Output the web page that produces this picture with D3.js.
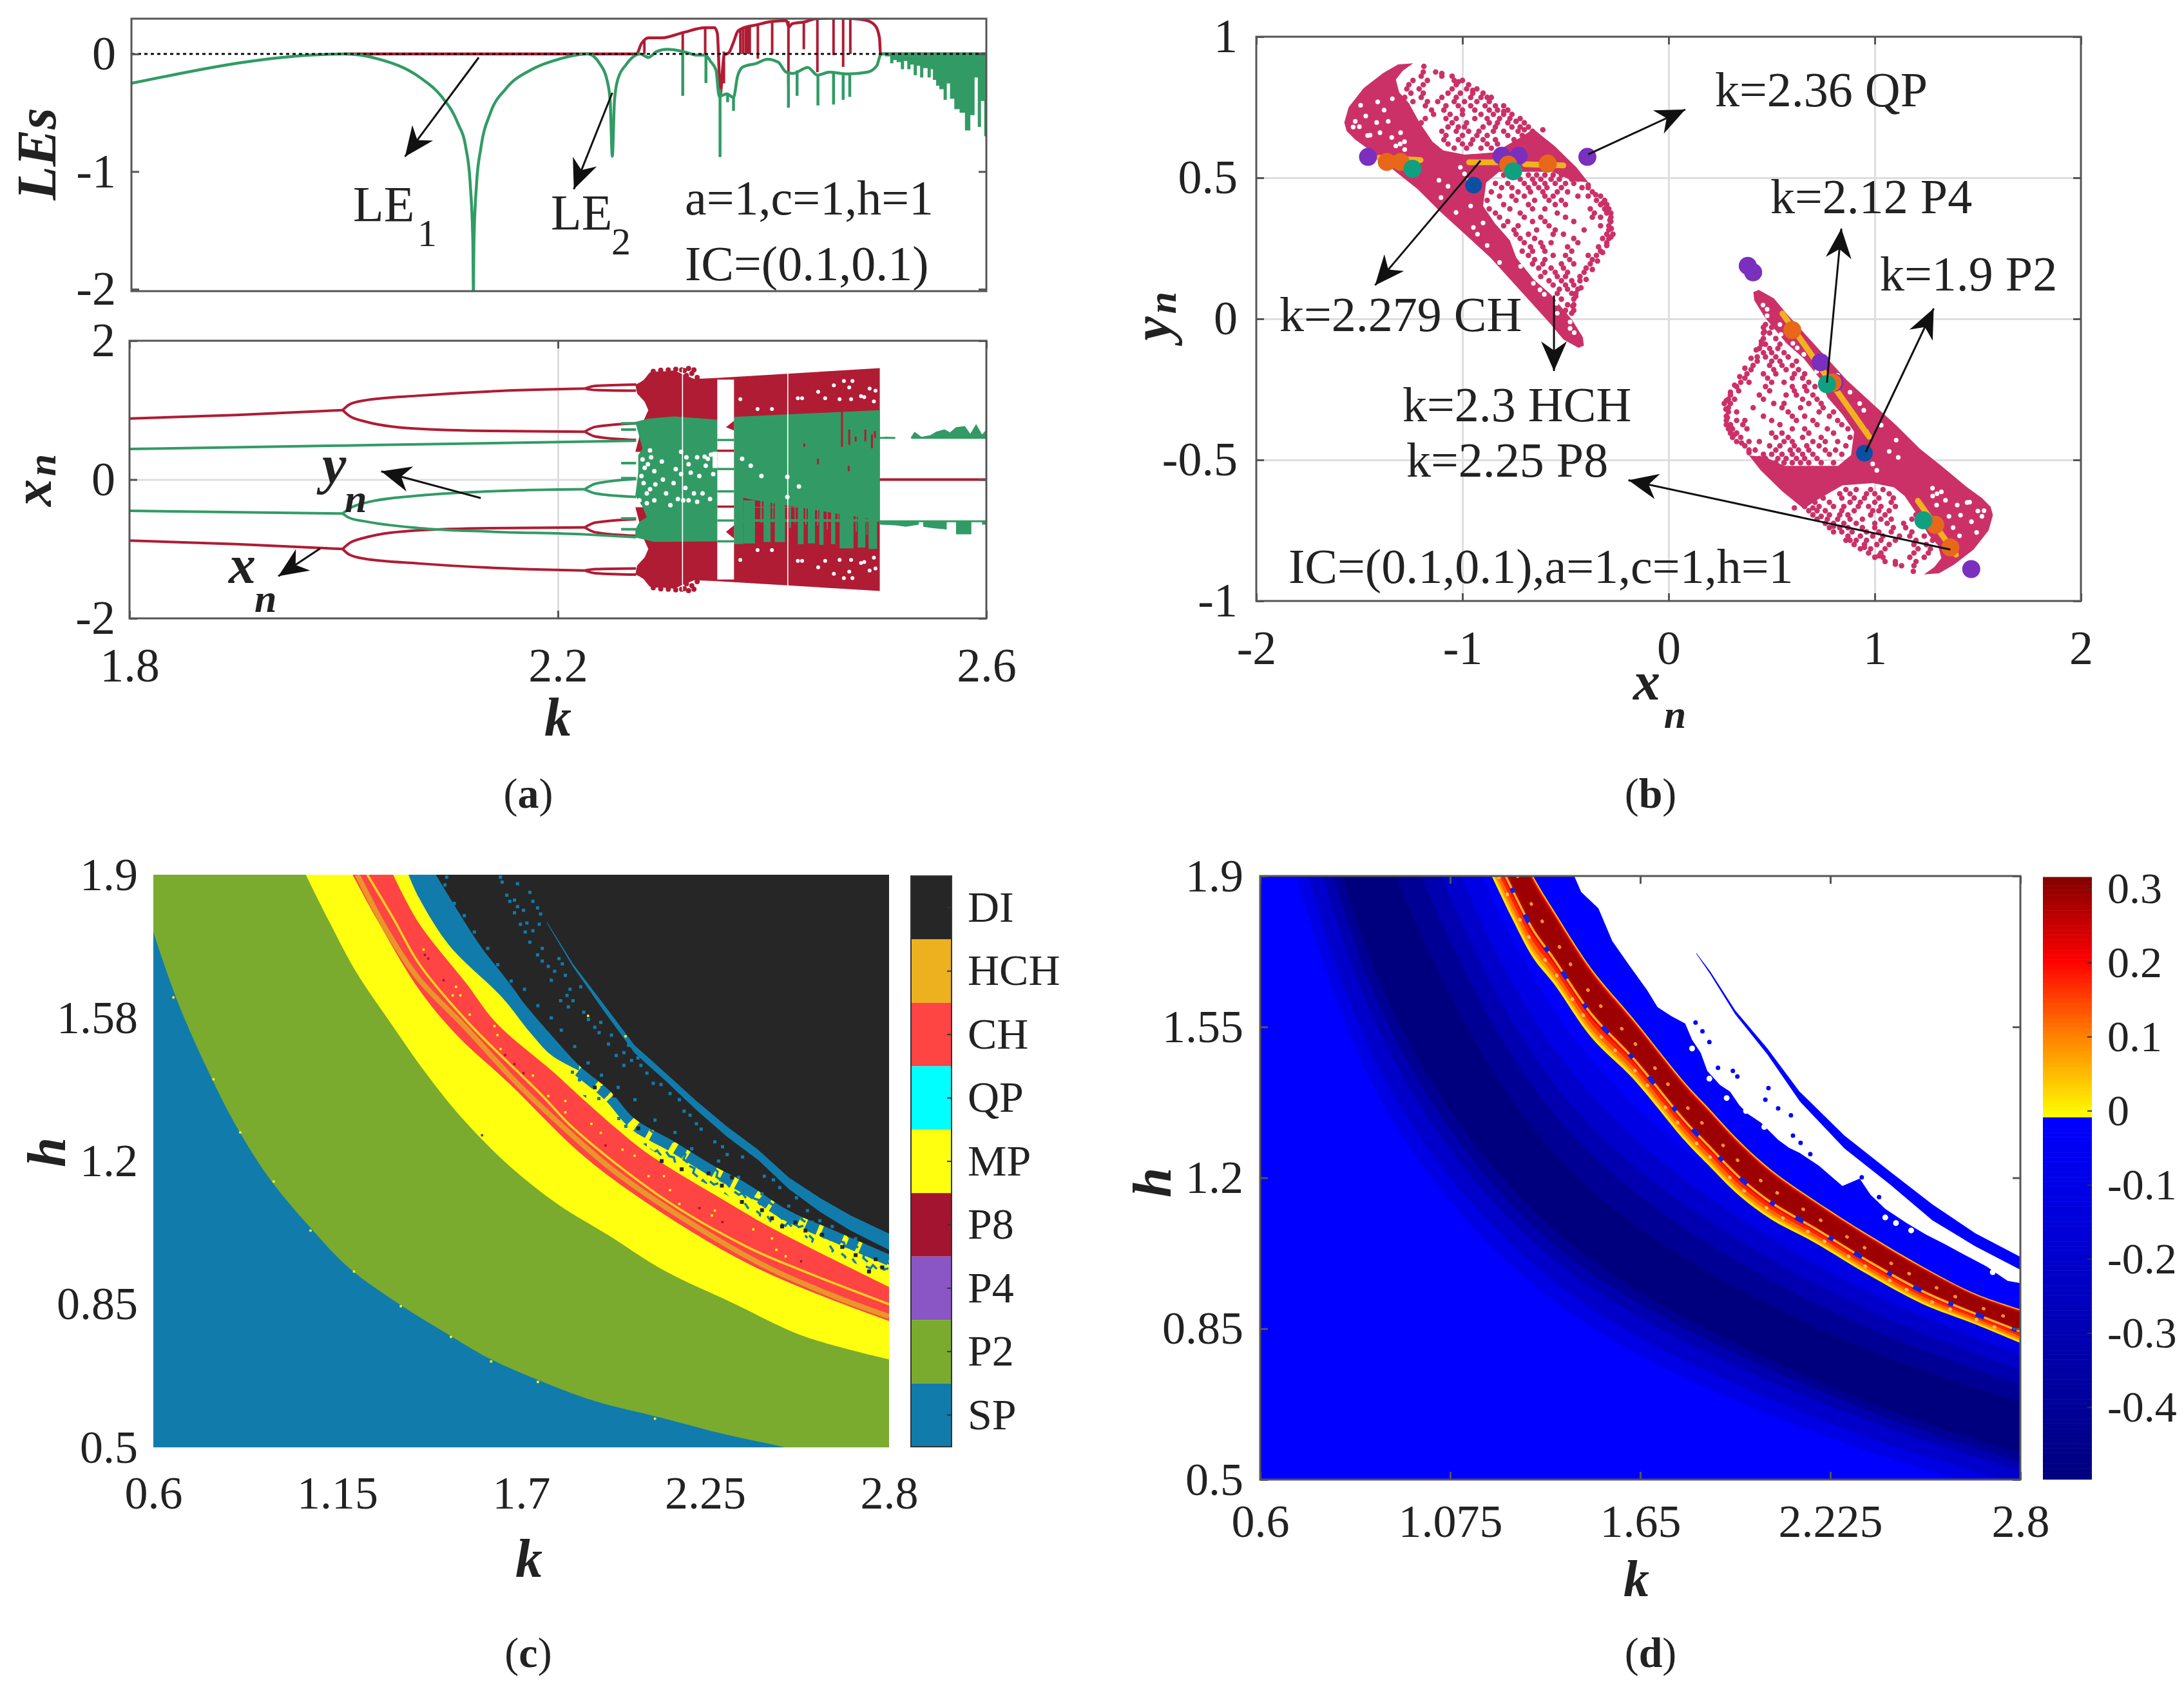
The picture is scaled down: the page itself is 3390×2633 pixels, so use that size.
<!DOCTYPE html>
<html>
<head>
<meta charset="utf-8">
<script src="https://d3js.org/d3.v7.min.js"></script>
<style>
  html, body { margin: 0; background: #fff; }
  svg text { font-family: "Liberation Serif", serif; fill: #222; }
</style>
</head>
<body>
<svg id="fig" width="3390" height="2633"></svg>
<script>
//---------- panel (a) top: lyapunov exponents ----------
var leTicks = [0, -1, -2];
var le1Curve = [[1.999,0],[2.2724,0],[2.2774,.09],[2.2838,.137],[2.2964,.137],[2.3166,.183],[2.3369,.223],[2.3457,.223],[2.3483,.174],[2.35,-.17],[2.3508,-.356],[2.3546,-.01],[2.359,.01],[2.3634,.1],[2.3672,.19],[2.3723,.22],[2.385,.247],[2.3976,.274],[2.4128,.283],[2.4153,.228],[2.418,.256],[2.4305,.274],[2.4406,.3],[2.4608,.305],[2.476,.3],[2.4887,.283],[2.4963,.237],[2.5,.137],[2.5009,.009],[2.502,0],[2.6,0]];
var le2Curve = [[1.8,-.25],[1.999,0],[2.03,-.04],[2.07,-.2],[2.09,-.36],[2.105,-.58],[2.113,-.8],[2.117,-1.1],[2.1195,-1.6],[2.12,-2.02],[2.1205,-1.6],[2.123,-1.1],[2.127,-.8],[2.136,-.5],[2.15,-.3],[2.175,-.13],[2.2,-.044],[2.227,0],[2.238,-.08],[2.245,-.22],[2.248,-.4],[2.25,-.87],[2.252,-.4],[2.255,-.22],[2.263,-.09],[2.276,0],[2.2838,-.03],[2.2913,.02],[2.3015,.04],[2.3166,.02],[2.3293,-.01],[2.3369,-.01],[2.342,-.064],[2.347,-.137],[2.35,-.36],[2.3571,-.34],[2.3634,-.37],[2.3672,-.19],[2.3723,-.11],[2.385,-.08],[2.395,-.045],[2.4052,-.07],[2.4128,-.155],[2.419,-.165],[2.433,-.115],[2.4419,-.18],[2.4533,-.155],[2.4634,-.165],[2.4709,-.17],[2.4887,-.155],[2.4975,-.1],[2.5009,-.01],[2.503,0],[2.6,0]];
var le1Dips = [[2.28,.11,0],[2.3159,.18,-.01],[2.3369,.22,-.01],[2.3544,.02,-.25],[2.3698,.21,0],[2.3723,.22,0],[2.3748,.225,.01],[2.3769,.23,0],[2.3786,.235,0],[2.3862,.25,-.04],[2.3996,.275,0],[2.4148,.28,-.25],[2.4292,.27,.04],[2.4419,.3,-.155],[2.457,.305,-.01],[2.466,.305,-.11],[2.4727,.3,0]];
var le2Dips = [[2.3159,.02,-.356],[2.3376,-.01,-.247],[2.3508,-.3,-.877],[2.3579,-.34,-.41],[2.3634,-.37,-.484],[2.4148,-.16,-.457],[2.4229,-.14,-.356],[2.4424,-.18,-.438],[2.457,-.16,-.43],[2.466,-.165,-.39],[2.4722,-.17,-.365]];
var le2Tail = [[2.505,-.02],[2.51,-.08],[2.513,-.05],[2.516,-.07],[2.52,-.13],[2.523,-.06],[2.526,-.13],[2.529,-.09],[2.532,-.18],[2.535,-.1],[2.538,-.2],[2.541,-.12],[2.545,-.2],[2.548,-.13],[2.55,-.22],[2.553,-.27],[2.556,-.3],[2.56,-.39],[2.563,-.25],[2.566,-.38],[2.57,-.47],[2.575,-.5],[2.58,-.65],[2.585,-.52],[2.589,-.2],[2.592,-.62],[2.595,-.4],[2.598,-.7],[2.6,-.7]];

//---------- panel (a) bottom: bifurcation, red is mirrored around zero ----------
var xnTicks = [2, 0, -2];
var kTicksA = [1.8, 2.2, 2.6];
var xnBranches = [
  [[1.8,.88],[1.9,.93],[1.999,1.0]],
  [[1.999,1.0],[2.005,1.08],[2.019,1.14],[2.071,1.21],[2.136,1.27],[2.225,1.31]],
  [[1.999,1.0],[2.005,.92],[2.019,.84],[2.071,.73],[2.136,.70],[2.225,.69]],
  [[2.225,1.31],[2.235,1.35],[2.273,1.37]], [[2.225,1.31],[2.235,1.29],[2.273,1.28]],
  [[2.225,.69],[2.235,.76],[2.273,.81]], [[2.225,.69],[2.235,.62],[2.273,.57]]
];
var redBand = [[2.2723,1.366],[2.2763,1.397],[2.28,1.435],[2.2835,1.5],[2.2857,1.543],[2.2924,1.558],[2.3,1.56],[2.3085,1.574],[2.3152,1.527],[2.3273,1.45],[2.3488,1.465],[2.5005,1.605],[2.5005,.4],[2.2723,.4],[2.28,.85],[2.2844,1.0],[2.281,1.12],[2.274,1.24]];
var redFuzz = [[2.318,1.57],[2.32,1.5],[2.322,1.6],[2.325,1.53],[2.327,1.58],[2.3155,1.58],[2.31,1.59],[2.303,1.58],[2.296,1.575],[2.289,1.56],[2.33,1.47]];
var ynBranches = [
  [[1.8,.44],[2.0,.49],[2.273,.56]],
  [[1.8,-.45],[1.999,-.49]],
  [[1.999,-.49],[2.005,-.42],[2.019,-.34],[2.071,-.23],[2.136,-.17],[2.225,-.14]],
  [[1.999,-.49],[2.005,-.55],[2.019,-.6],[2.071,-.7],[2.136,-.75],[2.225,-.79],[2.273,-.83]],
  [[2.225,-.14],[2.235,-.06],[2.273,.01]], [[2.225,-.14],[2.235,-.2],[2.273,-.25]],
  [[2.259,.81],[2.273,.81]], [[2.259,.72],[2.273,.72]], [[2.259,.237],[2.273,.237]], [[2.259,.02],[2.273,.02]],
  [[2.259,-.56],[2.273,-.56]], [[2.259,-.716],[2.273,-.716]]
];
var greenBandLeft = [[2.2723,.83],[2.284,.878],[2.3085,.909],[2.341,.872],[2.3488,.86],[2.3488,-.89],[2.29,-.898],[2.2723,-.836],[2.2723,-.72],[2.2763,-.605],[2.283,-.543],[2.279,-.389],[2.2723,-.234],[2.275,.106],[2.275,.353],[2.279,.446],[2.2763,.6]];
var greenBandRight = [[2.3644,.903],[2.5005,1.0],[2.5005,-.589],[2.3837,-.296],[2.3644,-.234]];
var greenBars = [[2.3644,2.373,-.2,-.93],[2.373,2.384,-.3,-.92],[2.392,2.3985,-.3,-.9],[2.4025,2.412,-.32,-.9],[2.424,2.4294,-.37,-.93],[2.4334,2.44,-.39,-.92],[2.444,2.448,-.42,-.94],[2.455,2.459,-.45,-.93],[2.463,2.476,-.47,-.99],[2.48,2.487,-.53,-.98],[2.49,2.498,-.56,-1.0],[2.389,2.3905,-.3,-.62],[2.4,2.4012,-.33,-.62],[2.416,2.4175,-.35,-.7],[2.421,2.422,-.36,-.63],[2.431,2.4322,-.38,-.65],[2.442,2.443,-.41,-.66],[2.451,2.452,-.44,-.72],[2.461,2.462,-.46,-.62],[2.478,2.479,-.52,-.75],[2.488,2.489,-.55,-.8]];
var greenLine = [[2.3488,-.59],[2.5005,-.59]];
var redScratch = [[2.4652,.99,.47],[2.472,.72,.5],[2.487,.72,.55],[2.496,.7,.6],[2.4428,.3,.22],[2.4715,.2,.12],[2.43,.52,.47],[2.478,.62,.55],[2.4932,.65,.45]];
var bifWindows = [[2.3488,2.3644,-1.44,1.44],[2.3158,2.3168,-1.6,1.6],[2.4141,2.4151,-1.55,1.55],[2.3444,2.3488,.167,.4]];
var windowRed = [[[2.3569,.755],[2.3644,.847],[2.3644,.708]],[[2.3569,-.755],[2.3644,-.66],[2.3644,-.85]]];
var windowLines = [[2.3488,2.3644,.415,'#b01c34'],[2.3488,2.3644,-.39,'#b01c34'],[2.3488,2.3644,.57,'#329b65'],[2.3488,2.3644,-.59,'#329b65'],[2.3488,2.3644,.152,'#329b65'],[2.3488,2.3644,-.17,'#329b65'],[2.3488,2.3644,-.89,'#329b65']];
var whiteSpecks = [[2.424,1.172],[2.428,1.172],[2.443,1.265],[2.4495,1.172],[2.463,1.157],[2.472,1.326],[2.483,1.203],[2.486,1.187],[2.4737,1.157],[2.467,1.419],[2.491,1.311],[2.495,1.126],[2.4576,1.357],[2.3703,1.157],[2.3864,1.017],[2.3998,1.017],[2.475,1.419],[2.4965,1.28]];
var greenSpecks = [[2.279,.29],[2.287,.32],[2.281,.17],[2.28,-.05],[2.286,-.14],[2.276,-.3],[2.283,-.34],[2.29,-.3],[2.315,.4],[2.315,.08],[2.317,-.3],[2.322,-.3],[2.327,-.2],[2.322,.22],[2.335,-.2],[2.32,.32],[2.33,.32],[2.34,.3],[2.338,.2],[2.345,.08],[2.298,.0],[2.305,-.37],[2.31,.15],[2.4142,.04],[2.4142,-.25],[2.36,-.25],[2.372,.3],[2.38,.2],[2.39,.05],[2.425,-.1],[2.284,.22],[2.29,.12],[2.278,.05],[2.283,-.2],[2.291,-.07],[2.297,.26],[2.286,.42],[2.301,-.2],[2.308,-.05],[2.312,-.28],[2.324,.1],[2.33,-.32],[2.342,-.28],[2.337,.33],[2.343,.36],[2.347,.24],[2.332,.05],[2.319,-.12]];
var postTop = [[2.5005,.6],[2.504,.6],[2.506,.62],[2.515,.6],[2.515,NaN],[2.5292,NaN],[2.5292,.6],[2.533,.69],[2.5394,.615],[2.548,.64],[2.553,.69],[2.5609,.724],[2.566,.68],[2.5717,.755],[2.58,.77],[2.585,.66],[2.5905,.8],[2.596,.65],[2.6,.72]];
var postBottom = [[2.5005,-.65],[2.515,-.66],[2.525,-.68],[2.537,-.65],[2.537,NaN],[2.541,NaN],[2.541,-.68],[2.55,-.7],[2.563,-.72],[2.565,NaN],[2.5717,NaN],[2.5717,-.79],[2.586,-.79],[2.586,NaN],[2.596,NaN],[2.596,-.65],[2.6,-.65]];

//---------- panel (b): attractor, one lobe, the other is its mirror ----------
var axisXb = [-2, -1, 0, 1, 2];
var axisYb = [1, .5, 0, -.5, -1];
var lobeCore = [[-1.573,.696],[-1.552,.75],[-1.479,.818],[-1.385,.871],[-1.312,.902],[-1.239,.906],[-1.29,.879],[-1.323,.848],[-1.307,.803],[-1.26,.765],[-1.208,.696],[-1.145,.628],[-1.093,.597],[-.99,.582],[-.843,.59],[-.718,.643],[-.656,.673],[-.552,.612],[-.447,.537],[-.39,.484],[-.468,.49],[-.562,.521],[-.697,.521],[-.822,.521],[-.885,.483],[-.9,.4],[-.843,.339],[-.77,.278],[-.739,.217],[-.656,.141],[-.572,.087],[-.468,-.004],[-.416,-.065],[-.411,-.095],[-.437,-.103],[-.51,-.073],[-.572,-.019],[-.656,.049],[-.76,.133],[-.864,.217],[-.989,.301],[-1.104,.377],[-1.218,.46],[-1.323,.521],[-1.448,.597],[-1.52,.635],[-1.562,.666]];
var lobeEdge = [[-1.187,.895],[-1.1,.87],[-1.02,.84],[-.95,.81],[-.88,.785],[-.8,.735],[-.74,.7],[-.7,.67],[-.61,.67],[-.39,.474],[-.354,.44],[-.32,.41],[-.3,.38],[-.285,.35],[-.278,.32],[-.28,.29],[-.3,.26],[-.32,.235],[-.345,.205],[-.37,.175],[-.4,.14],[-.425,.11],[-.45,.08],[-.465,.045],[-.47,.02]];
var lobeRowsTop = [
  [.875,[-1.19,-1.13]],[.86,[-1.2,-1.1,-1.05]],[.845,[-1.24,-1.17,-1.04,-1]],[.83,[-1.26,-1.19,-1.03,-.97]],[.815,[-1.27,-1.21,-1.05,-.98,-.93]],
  [.8,[-1.25,-1.19,-1.07,-1.01,-.95,-.9]],[.785,[-1.28,-1.2,-1.1,-1.03,-.96,-.91,-.86]],[.77,[-1.24,-1.17,-1.12,-1.04,-.99,-.93,-.87]],
  [.755,[-1.18,-1.08,-1.02,-.96,-.89,-.84,-.8]],[.74,[-1.15,-1.09,-1,-.94,-.87,-.83,-.78]],[.725,[-1.14,-1.06,-1,-.91,-.85,-.8,-.76]],
  [.71,[-1.18,-1.08,-1.03,-.94,-.88,-.82,-.77,-.72]],[.695,[-1.2,-1.05,-.98,-.87,-.83,-.78,-.7]],[.68,[-1.07,-1.02,-.99,-.9,-.84,-.76,-.72,-.68]],
  [.665,[-1.1,-1.03,-.97,-.92,-.85,-.8,-.73,-.66]],[.65,[-1.08,-1,-.93,-.88,-.78,-.71,-.65]],[.635,[-1.09,-1.02,-.95,-.9,-.84,-.75,-.69,-.63]],
  [.62,[-1.07,-1,-.96,-.88,-.83,-.73,-.67,-.62]],[.605,[-1.04,-.98,-.91,-.86,-.76,-.7,-.64]]
];
var lobeRowsLow = [
  [.51,[-.8,-.74,-.68,-.64,-.6,-.56,-.52,-.49]],[.495,[-.72,-.66,-.62,-.57,-.53,-.47,-.44]],[.48,[-.84,-.78,-.7,-.65,-.6,-.55,-.5,-.46]],
  [.465,[-.81,-.76,-.68,-.63,-.59,-.52,-.42,-.39]],[.45,[-.86,-.73,-.67,-.61,-.54,-.49,-.37]],[.435,[-.82,-.76,-.7,-.6,-.56,-.44,-.39,-.33]],
  [.42,[-.88,-.74,-.65,-.58,-.52,-.35,-.31]],[.405,[-.8,-.68,-.55,-.5,-.33,-.3]],[.39,[-.87,-.77,-.66,-.6,-.38,-.31,-.29]],
  [.375,[-.84,-.72,-.54,-.36,-.3,-.28]],[.36,[-.82,-.7,-.62,-.5,-.37,-.33,-.28]],[.345,[-.78,-.66,-.6,-.46,-.28]],
  [.33,[-.8,-.73,-.58,-.33,-.29]],[.315,[-.75,-.64,-.55,-.41,-.29]],[.3,[-.74,-.68,-.56,-.51,-.3,-.27]],
  [.285,[-.72,-.65,-.46,-.32,-.29]],[.27,[-.7,-.62,-.57,-.44,-.3]],[.255,[-.67,-.61,-.49,-.34]],
  [.24,[-.71,-.66,-.6,-.47,-.33]],[.225,[-.68,-.56,-.5,-.39,-.35]],[.21,[-.65,-.6,-.48,-.37]],
  [.195,[-.66,-.61,-.52,-.46,-.38]],[.18,[-.63,-.57,-.51,-.4]],[.165,[-.6,-.55,-.49,-.41]],[.15,[-.62,-.54,-.5,-.43]],
  [.135,[-.58,-.52,-.47,-.43]],[.12,[-.56,-.5,-.46]],[.105,[-.53,-.49,-.44]],[.09,[-.54,-.47,-.45]],[.07,[-.52,-.46]],[.05,[-.49,-.46]],[.03,[-.5,-.46]]
];
var lobeHoles = [[-1.5,.681],[-1.448,.651],[-1.52,.7],[-1.416,.696],[-1.469,.719],[-1.411,.769],[-1.494,.757],[-1.302,.62],[-1.323,.613],[-1.281,.628],[-1.343,.643],[-1.114,.491],[-1.104,.43],[-1.031,.377],[-1.01,.537],[-.99,.514],[-.947,.324],[-.927,.3],[-.624,.103],[-.603,.087],[-.478,-.034],[-.458,-.049],[-.478,-.011],[-.656,.126],[-.718,.186],[-1.46,.65],[-1.4,.66],[-1.36,.7],[-1.3,.66],[-1.53,.68],[-1.28,.6],[-1.38,.74],[-1.34,.78],[-1.07,.47],[-.97,.49],[-.96,.4],[-.88,.26],[-.82,.2],[-.545,.055],[-.54,.02],[-.9,.34]];
var pointsP2 = [[-.946,.474],[.95,-.476]];
var pointsP4 = [[-1.458,.574],[-.81,.578],[-.727,.578],[-.394,.574],[.384,.188],[.41,.165],[.737,-.154],[.805,-.226],[1.468,-.887]];
var pointsP8 = [[-1.367,.556],[-1.3,.556],[-.778,.547],[-.586,.55],[.6,-.04],[.795,-.226],[1.293,-.73],[1.367,-.81]];
var pointsCH = [[-1.242,.532],[-.754,.523],[.768,-.232],[1.236,-.714]];
var hchSegments = [[[-1.406,.571],[-1.203,.563]],[[-.968,.555],[-.833,.555]],[[-.697,.548],[-.51,.544]],[[.552,.019],[.973,-.418]],[[1.209,-.645],[1.394,-.836]]];

//---------- panel (c): regime map ----------
var mapXTicks = [.6, 1.15, 1.7, 2.25, 2.8];
var mapYTicks = [1.9, 1.55, 1.2, .85, .5];
var labelsXc = ['0.6', '1.15', '1.7', '2.25', '2.8'];
var labelsYc = ['1.9', '1.58', '1.2', '0.85', '0.5'];
var regimes = ['DI', 'HCH', 'CH', 'QP', 'MP', 'P8', 'P4', 'P2', 'SP'];
var regimeColors = ['#262626', '#edb120', '#ff4444', '#00ffff', '#ffff10', '#a2142f', '#8a55c4', '#7aab2e', '#117cab'];
var edgeP2 = [[.6,1.76],[.673,1.589],[.767,1.415],[.851,1.281],[.945,1.16],[1.06,1.046],[1.185,.939],[1.332,.852],[1.478,.778],[1.603,.718],[1.75,.665],[1.917,.614],[2.126,.571],[2.314,.531],[2.49,.5],[2.65,.47],[2.8,.44]];
var edgeMP = [[1.056,1.9],[1.123,1.79],[1.206,1.663],[1.311,1.536],[1.415,1.415],[1.52,1.308],[1.666,1.187],[1.812,1.093],[1.958,1.02],[2.126,.933],[2.335,.852],[2.544,.772],[2.8,.715]];
var edgeCH = [[1.196,1.9],[1.269,1.79],[1.394,1.62],[1.505,1.51],[1.67,1.385],[1.855,1.235],[1.984,1.15],[2.224,1.02],[2.408,.937],[2.6,.87],[2.8,.809]];
var topCH = [[1.317,1.9],[1.394,1.782],[1.537,1.633],[1.624,1.539],[1.8,1.415],[1.873,1.36],[1.984,1.28],[2.067,1.225],[2.178,1.166],[2.307,1.104],[2.436,1.042],[2.583,.98],[2.8,.892]];
var chOrange = [[1.21,1.9],[1.3,1.76],[1.394,1.645],[1.532,1.528],[1.67,1.405],[1.744,1.345],[1.984,1.172],[2.279,1.012],[2.445,.937],[2.65,.865],[2.8,.82]];
var chYellow = [[1.24,1.9],[1.32,1.79],[1.394,1.683],[1.541,1.539],[1.763,1.36],[1.855,1.281],[2.122,1.11],[2.371,.992],[2.519,.939],[2.8,.85]];
var edgeSpeckle = [[1.717,1.564],[1.781,1.49],[1.855,1.384],[1.947,1.322],[2.076,1.235],[2.205,1.166],[2.316,1.116],[2.408,1.067],[2.546,1.01],[2.685,.955],[2.8,.91]];
var edgeTeal = [[1.363,1.9],[1.394,1.844],[1.486,1.726],[1.643,1.6],[1.726,1.515],[1.79,1.459],[1.873,1.421]];
var edgeBlack = [[1.445,1.9],[1.514,1.807],[1.578,1.726],[1.661,1.639],[1.717,1.577],[1.79,1.508],[1.873,1.434],[1.966,1.371],[2.04,1.303],[2.159,1.247],[2.27,1.191],[2.371,1.147],[2.5,1.079],[2.639,1.029],[2.814,.967]];
var arcUpper = [[1.777,1.785],[1.855,1.682],[1.947,1.583],[2.039,1.483],[2.132,1.415],[2.224,1.347],[2.316,1.284],[2.408,1.228],[2.5,1.16],[2.593,1.11],[2.685,1.067],[2.814,1.017]];
var arcLower = [[1.777,1.782],[1.855,1.675],[1.947,1.567],[2.039,1.464],[2.132,1.396],[2.224,1.325],[2.316,1.259],[2.408,1.203],[2.5,1.132],[2.593,1.076],[2.685,1.03],[2.814,.977]];
var tealInBlack = [[1.477,1.894],[1.472,1.875],[1.638,1.894],[1.643,1.882],[1.689,1.878],[1.726,1.857],[1.657,1.85],[1.666,1.835],[1.68,1.838],[1.689,1.822],[1.707,1.813],[1.68,1.807],[1.735,1.835],[1.749,1.819],[1.758,1.804],[1.698,1.779],[1.717,1.782],[1.712,1.76],[1.735,1.763],[1.754,1.779],[1.726,1.735],[1.763,1.72],[1.749,1.704],[1.763,1.689],[1.781,1.676],[1.813,1.695],[1.823,1.682],[1.8,1.664],[1.832,1.654],[1.79,1.642],[1.878,1.626],[1.846,1.62],[1.837,1.605],[1.818,1.592],[1.855,1.592],[1.841,1.577],[1.887,1.564],[1.901,1.546],[1.938,1.539],[1.92,1.527],[1.933,1.514],[1.97,1.508],[1.961,1.486],[2.021,1.483],[2.007,1.465],[1.984,1.458],[2.049,1.452],[2.03,1.446],[2.058,1.434],[2.007,1.434],[2.076,1.415],[2.118,1.387],[2.095,1.39],[2.145,1.365],[2.173,1.35],[2.187,1.322],[2.205,1.312],[2.224,1.291],[2.238,1.278],[2.279,1.247],[2.302,1.235],[2.316,1.216],[2.362,1.21],[2.427,1.163],[2.454,1.154],[2.473,1.135],[2.523,1.11],[2.556,1.079],[2.593,1.054],
  [1.5,1.83],[1.53,1.8],[1.56,1.76],[1.6,1.72],[1.63,1.68],[1.67,1.64],[1.71,1.62],[1.75,1.58],[1.79,1.55],[1.82,1.52],[1.86,1.48],[1.9,1.44],[1.94,1.41],[1.99,1.38],[2.04,1.35],[2.1,1.3],[2.16,1.27],[2.21,1.23],[2.29,1.2],[2.35,1.16],[2.42,1.12],[2.5,1.09],[2.57,1.05],[2.63,1.04],[2.7,1.01]];
var blackInSpeckle = [[1.92,1.38],[1.98,1.36],[2.05,1.28],[2.12,1.2],[2.18,1.18],[2.26,1.17],[2.3,1.14],[2.36,1.1],[2.42,1.08],[2.48,1.04],[2.55,1.03],[2.6,1.02],[2.66,.99],[2.7,.97],[2.76,.96],[2.45,1.06],[2.52,1.05],[2.33,1.16],[2.74,.93],[2.78,.94]];
var yellowDots = [[1.408,1.717],[1.505,1.626],[1.495,1.605],[1.518,1.605],[1.546,1.558],[1.62,1.53],[1.629,1.508],[1.638,1.474],[1.735,1.409],[1.781,1.359],[1.832,1.347],[1.832,1.319],[1.91,1.291],[1.938,1.269],[2.003,1.228],[2.039,1.213],[2.081,1.163],[2.127,1.163],[2.145,1.129],[2.173,1.095],[2.279,1.079],[2.27,1.067],[2.394,1.033],[2.45,1.011],[2.463,.983],[2.491,.967],[.66,1.6],[.78,1.4],[.86,1.27],[.96,1.15],[1.07,1.03],[1.2,.93],[1.34,.845],[1.49,.77],[1.61,.71],[1.75,.66],[2.1,.57],[1.9,1.555],[2.012,1.505]];
var darkDotsCH = [[1.412,1.704],[1.422,1.695],[1.468,1.642],[1.652,1.459],[1.68,1.437],[1.707,1.415],[1.952,1.238],[2.233,1.085],[2.302,1.051],[2.537,.955],[1.583,1.263]];

//---------- panel (d): largest exponent ----------
var labelsXd = ['0.6', '1.075', '1.65', '2.225', '2.8'];
var labelsYd = ['1.9', '1.55', '1.2', '0.85', '0.5'];
var barTicks = [.3, .2, .1, 0, -.1, -.2, -.3, -.4];
var lyapK = [.6, .8, 1, 1.3, 1.6, 2, 2.4, 2.8];
var lyapLevels = [-.2, -.26, -.32, -.38, -.44, -.49, -.44, -.38, -.32, -.26, -.2];
var lyapContours = [
  [2.1,1.55,1.22,.95,.78,.64,.52,.42],
  [2.2,1.62,1.28,1,.82,.67,.55,.46],
  [2.3,1.7,1.34,1.05,.86,.71,.58,.49],
  [2.5,1.8,1.42,1.1,.91,.75,.62,.52],
  [2.6,1.88,1.47,1.14,.94,.78,.64,.54],
  [2.7,1.95,1.52,1.18,.97,.8,.66,.56],
  [3.6,2.35,1.85,1.38,1.12,.93,.78,.68],
  [3.9,2.55,2,1.48,1.2,.99,.83,.72],
  [4.2,2.75,2.12,1.56,1.26,1.04,.87,.755],
  [4.5,2.95,2.25,1.65,1.33,1.09,.91,.79],
  [4.8,3.1,2.4,1.75,1.41,1.15,.96,.83]
];
var bandK = [1.2,1.27,1.33,1.39,1.45,1.559,1.679,1.83,1.894,1.987,2.08,2.204,2.36,2.515,2.67,2.82];
var bandUpper = [2.25,2.1,2,1.9,1.82,1.685,1.57,1.42,1.365,1.285,1.218,1.148,1.068,.995,.931,.89];
var bandLower = [2.02,1.9,1.8,1.71,1.65,1.525,1.43,1.285,1.232,1.158,1.103,1.05,.975,.908,.86,.81];
var bandLayers = [[0,1,.015],[.06,.985,.07],[.12,.97,.12],[.2,.96,.17],[.28,.95,.22],[.36,.93,.27],[.42,.88,.29]];
var whiteEdge = [[1.509,1.9],[1.529,1.863],[1.579,1.825],[1.619,1.749],[1.669,1.692],[1.72,1.635],[1.75,1.596],[1.79,1.575],[1.83,1.558],[1.85,1.52],[1.875,1.49],[1.894,1.448],[1.931,1.415],[1.96,1.4],[1.987,1.368],[2.012,1.348],[2.049,1.328],[2.099,1.288],[2.13,1.27],[2.161,1.258],[2.217,1.228],[2.285,1.181],[2.335,1.198],[2.366,1.161],[2.409,1.128],[2.471,1.095],[2.527,1.068],[2.577,1.048],[2.639,1.021],[2.701,.995],[2.763,.961],[2.804,.955]];
var arcUpperD = [[1.862,1.722],[1.903,1.678],[1.975,1.588],[2.068,1.5],[2.161,1.4],[2.291,1.298],[2.422,1.215],[2.546,1.138],[2.67,1.071],[2.804,1.015]];
var arcLowerD = [[1.862,1.72],[1.903,1.672],[1.975,1.579],[2.068,1.486],[2.161,1.378],[2.291,1.268],[2.422,1.185],[2.546,1.101],[2.67,1.041],[2.804,.985]];
var blueSpecks = [[1.9,1.515],[1.925,1.455],[1.968,1.448],[1.981,1.435],[2.071,1.408],[2.136,1.345],[2.062,1.381],[2.099,1.361],[2.142,1.298],[2.164,1.281],[2.192,1.255],[2.341,1.201],[2.391,1.155],[1.86,1.56],[1.88,1.54]];
var whiteSpecksD = [[2.006,1.355],[2.059,1.318],[2.409,1.108],[2.44,1.095],[2.484,1.078],[2.683,1.021],[2.72,.981],[2.763,.975],[2.788,.968],[2.738,.988],[1.85,1.5],[1.9,1.43],[1.95,1.385]];

//---------- helpers ----------
var svg = d3.select('#fig');
var defs = svg.append('defs');
var redC = '#b01c34', greenC = '#329b65', pinkC = '#cb3167', tickC = '#555';

defs.append('marker').attr('id', 'head').attr('markerUnits', 'userSpaceOnUse')
  .attr('markerWidth', 60).attr('markerHeight', 50).attr('refX', 50).attr('refY', 25).attr('orient', 'auto')
  .append('path').attr('d', 'M50,25 L4,5 L18,25 L4,45 Z').attr('fill', '#111');

// speckle textures for the mixed zone in (c)
var sparse = defs.append('pattern').attr('id', 'speckleSparse').attr('patternUnits', 'userSpaceOnUse').attr('width', 72).attr('height', 72);
sparse.append('rect').attr('width', 72).attr('height', 72).attr('fill', '#ffff10');
[[2,3],[22,6],[44,2],[60,10],[10,22],[33,18],[52,27],[3,40],[24,38],[41,44],[63,47],[14,58],[32,62],[52,60],[68,30]].forEach(function(p) {
  sparse.append('rect').attr('x', p[0]).attr('y', p[1]).attr('width', 5).attr('height', 5).attr('fill', '#117cab');
});
var dense = defs.append('pattern').attr('id', 'speckleDense').attr('patternUnits', 'userSpaceOnUse').attr('width', 66).attr('height', 66);
dense.append('rect').attr('width', 66).attr('height', 66).attr('fill', '#ffff10');
['M2,4 l6,6 l-3,8 l7,5','M18,2 l7,5 l5,-3 l6,8','M44,6 l5,7 l7,2 l2,8','M14,28 l8,4 l-2,7 l7,6','M34,20 l5,7 l-4,7 l6,5','M52,32 l6,5 l-2,8 l6,4','M3,40 l5,7 l-3,7 l6,7','M24,52 l7,3 l4,-5 l6,6','M46,52 l6,5 l7,-2','M62,4 l3,4'].forEach(function(d) {
  dense.append('path').attr('d', d).attr('fill', 'none').attr('stroke', '#117cab').attr('stroke-width', 3.5);
});

var clipId = 0;
function makePanel(x0, x1, y0, y1, xd, yd) {
  clipId++;
  defs.append('clipPath').attr('id', 'clip' + clipId).append('rect')
    .attr('x', x0).attr('y', y0).attr('width', x1 - x0).attr('height', y1 - y0);
  var p = {
    x: d3.scaleLinear().domain(xd).range([x0, x1]),
    y: d3.scaleLinear().domain(yd).range([y1, y0]),
    x0: x0, x1: x1, y0: y0, y1: y1, top: yd[1]
  };
  p.g = svg.append('g');
  p.back = p.g.append('g');
  p.plot = p.g.append('g').attr('clip-path', 'url(#clip' + clipId + ')');
  p.line = d3.line().x(function(d) { return p.x(d[0]); }).y(function(d) { return p.y(d[1]); });
  return p;
}

function grid(p, gx, gy) {
  p.back.append('g').attr('transform', 'translate(0,' + p.y1 + ')')
    .call(d3.axisBottom(p.x).tickValues(gx).tickSize(-(p.y1 - p.y0)).tickFormat(''))
    .call(function(s) { s.select('.domain').remove(); s.selectAll('line').attr('stroke', '#dedede').attr('stroke-width', 3); });
  p.back.append('g').attr('transform', 'translate(' + p.x0 + ',0)')
    .call(d3.axisLeft(p.y).tickValues(gy).tickSize(-(p.x1 - p.x0)).tickFormat(''))
    .call(function(s) { s.select('.domain').remove(); s.selectAll('line').attr('stroke', '#dedede').attr('stroke-width', 3); });
}

function frame(p, opt) {
  var fs = opt.size || 74;
  var bottom = d3.axisBottom(p.x).tickValues(opt.xTicks).tickSize(opt.tick === 0 ? 0 : -12).tickPadding(opt.padX)
    .tickFormat(function(d, i) { return opt.xLabels ? opt.xLabels[i] : d; });
  var left = d3.axisLeft(p.y).tickValues(opt.yTicks).tickSize(opt.tick === 0 ? 0 : -12).tickPadding(opt.padY)
    .tickFormat(function(d, i) { return opt.yLabels ? opt.yLabels[i] : d; });
  var gx = p.g.append('g').attr('transform', 'translate(0,' + p.y1 + ')').call(bottom);
  var gy = p.g.append('g').attr('transform', 'translate(' + p.x0 + ',0)').call(left);
  [gx, gy].forEach(function(a) {
    a.select('.domain').remove();
    a.selectAll('line').attr('stroke', tickC).attr('stroke-width', 3);
    a.selectAll('text').style('font-family', '"Liberation Serif", serif').style('font-size', fs + 'px').attr('fill', '#222');
  });
  if (opt.box !== false) {
    p.g.append('rect').attr('x', p.x0).attr('y', p.y0).attr('width', p.x1 - p.x0).attr('height', p.y1 - p.y0)
      .attr('fill', 'none').attr('stroke', tickC).attr('stroke-width', 3);
  }
  if (opt.mirror) {
    p.g.append('g').attr('transform', 'translate(' + p.x1 + ',0)')
      .call(d3.axisRight(p.y).tickValues(opt.yTicks).tickSize(-12).tickFormat(''))
      .call(function(s) { s.select('.domain').remove(); s.selectAll('line').attr('stroke', tickC).attr('stroke-width', 3); });
    p.g.append('g').attr('transform', 'translate(0,' + p.y0 + ')')
      .call(d3.axisTop(p.x).tickValues(opt.xTicks).tickSize(-12).tickFormat(''))
      .call(function(s) { s.select('.domain').remove(); s.selectAll('line').attr('stroke', tickC).attr('stroke-width', 3); });
  }
}

function txt(x, y, s, size, o) {
  o = o || {};
  var t = svg.append('text').attr('x', x).attr('y', y).text(s).style('font-size', size + 'px')
    .attr('text-anchor', o.anchor || 'start');
  if (o.bold) t.style('font-weight', 'bold');
  if (o.italic) t.style('font-style', 'italic');
  if (o.rotate) t.attr('transform', 'rotate(' + o.rotate + ',' + x + ',' + y + ')');
  return t;
}

function caption(x, y, letter) {
  var t = svg.append('text').attr('x', x).attr('y', y).attr('text-anchor', 'middle').style('font-size', '66px');
  t.append('tspan').text('(');
  t.append('tspan').text(letter).style('font-weight', 'bold');
  t.append('tspan').text(')');
}

function arrow(p, a) {
  p.g.append('line').attr('x1', p.x(a[0])).attr('y1', p.y(a[1])).attr('x2', p.x(a[2])).attr('y2', p.y(a[3]))
    .attr('stroke', '#111').attr('stroke-width', 3).attr('marker-end', 'url(#head)');
}

// filled region from a boundary curve up to the top of the plot
function above(p, pts, fill, curve) {
  var area = d3.area().x(function(d) { return p.x(d[0]); }).y0(p.y(p.top)).y1(function(d) { return p.y(d[1]); })
    .curve(curve || d3.curveCatmullRom);
  return p.plot.append('path').attr('d', area(pts)).attr('fill', fill);
}

function between(p, upper, lower, fill) {
  polygon(p, upper.concat(lower.slice().reverse()), fill);
}

function polygon(p, pts, fill, sign) {
  var s = sign || 1;
  var m = pts.map(function(d) { return [d[0], s * d[1]]; });
  p.plot.append('path').attr('d', p.line.curve(d3.curveLinearClosed)(m)).attr('fill', fill);
  p.line.curve(d3.curveLinear);
}

function stroke(p, pts, color, w, curve) {
  var path = p.plot.append('path').attr('d', p.line.curve(curve || d3.curveLinear)(pts)).attr('fill', 'none')
    .attr('stroke', color).attr('stroke-width', w).attr('stroke-linejoin', 'round');
  p.line.curve(d3.curveLinear);
  return path;
}

function dots(p, pts, r, fill) {
  p.plot.append('g').selectAll('circle').data(pts).enter().append('circle')
    .attr('cx', function(d) { return p.x(d[0]); }).attr('cy', function(d) { return p.y(d[1]); })
    .attr('r', r).attr('fill', fill);
}

function cells(p, pts, w, fill) {
  p.plot.append('g').selectAll('rect').data(pts).enter().append('rect')
    .attr('x', function(d) { return p.x(d[0]) - w / 2; }).attr('y', function(d) { return p.y(d[1]) - w / 2; })
    .attr('width', w).attr('height', w).attr('fill', fill);
}

function flatRows(rows) {
  var out = [];
  rows.forEach(function(r) { r[1].forEach(function(x) { out.push([x, r[0]]); }); });
  return out;
}

//---------- (a) top ----------
var topA = makePanel(204, 1531, 29, 452, [1.8, 2.6], [-2.017, .3]);
le1Dips.forEach(function(d) { stroke(topA, [[d[0], d[1]], [d[0], d[2]]], redC, 4); });
stroke(topA, le1Curve, redC, 4.5, d3.curveMonotoneX);
var tailArea = d3.area().x(function(d) { return topA.x(d[0]); }).y0(topA.y(0)).y1(function(d) { return topA.y(d[1]); }).curve(d3.curveStepAfter);
topA.plot.append('path').attr('d', tailArea(le2Tail)).attr('fill', greenC);
le2Dips.forEach(function(d) { stroke(topA, [[d[0], d[1]], [d[0], d[2]]], greenC, 4.5); });
stroke(topA, le2Curve, greenC, 4.5, d3.curveMonotoneX);
topA.plot.append('line').attr('x1', topA.x(1.8)).attr('x2', topA.x(2.6)).attr('y1', topA.y(0)).attr('y2', topA.y(0))
  .attr('stroke', '#111').attr('stroke-width', 3).attr('stroke-dasharray', '5 5');
frame(topA, { xTicks: [], yTicks: leTicks, padX: 45, padY: 24, mirror: true });
arrow(topA, [2.125, -.03, 2.056, -.873]);
arrow(topA, [2.25, -.33, 2.214, -1.15]);
txt(60, 239, 'LEs', 86, { bold: true, italic: true, anchor: 'middle', rotate: -90 }).attr('dy', '.3em');
txt(548, 343, 'LE', 78);
txt(648, 382, '1', 60);
txt(855, 356, 'LE', 78);
txt(949, 395, '2', 60);
txt(1063, 333, 'a=1,c=1,h=1', 76);
txt(1063, 435, 'IC=(0.1,0.1)', 76);

//---------- (a) bottom ----------
var botA = makePanel(201, 1531, 529, 960, [1.8, 2.6], [-2, 2]);
grid(botA, [2.2], [0]);
[1, -1].forEach(function(s) {
  xnBranches.forEach(function(b) {
    stroke(botA, b.map(function(d) { return [d[0], s * d[1]]; }), redC, 4, d3.curveMonotoneX);
  });
  polygon(botA, redBand, redC, s);
  dots(botA, redFuzz.map(function(d) { return [d[0], s * d[1]]; }), 4, redC);
  dots(botA, whiteSpecks.map(function(d) { return [d[0], s * d[1]]; }), 3, '#fff');
});
polygon(botA, [[2.3,.4],[2.5005,.4],[2.5005,-.4],[2.3,-.4]], redC);
stroke(botA, [[2.5,0],[2.6,0]], redC, 4);
ynBranches.forEach(function(b) { stroke(botA, b, greenC, 4, d3.curveMonotoneX); });
polygon(botA, greenBandLeft, greenC);
polygon(botA, greenBandRight, greenC);
greenBars.forEach(function(b) {
  polygon(botA, [[b[0], b[2]], [b[1], b[2]], [b[1], b[3]], [b[0], b[3]]], greenC);
});
stroke(botA, greenLine, greenC, 4);
redScratch.forEach(function(r) { stroke(botA, [[r[0], r[1]], [r[0], r[2]]], redC, 3); });
dots(botA, greenSpecks, 3.5, '#fff');
bifWindows.forEach(function(w) {
  botA.plot.append('rect').attr('x', botA.x(w[0])).attr('width', botA.x(w[1]) - botA.x(w[0]))
    .attr('y', botA.y(w[3])).attr('height', botA.y(w[2]) - botA.y(w[3])).attr('fill', '#fff');
});
windowRed.forEach(function(t) { polygon(botA, t, redC); });
windowLines.forEach(function(l) { stroke(botA, [[l[0], l[2]], [l[1], l[2]]], l[3], 3.5); });
var postArea = function(base) {
  return d3.area().defined(function(d) { return !isNaN(d[1]); }).x(function(d) { return botA.x(d[0]); })
    .y0(botA.y(base)).y1(function(d) { return botA.y(d[1]); });
};
botA.plot.append('path').attr('d', postArea(.6)(postTop)).attr('fill', greenC);
botA.plot.append('path').attr('d', postArea(-.6)(postBottom)).attr('fill', greenC);
stroke(botA, [[2.5,.6],[2.515,.6]], greenC, 3);
stroke(botA, [[2.53,.6],[2.6,.6]], greenC, 3);
stroke(botA, [[2.5,-.6],[2.6,-.6]], greenC, 3);
frame(botA, { xTicks: kTicksA, yTicks: xnTicks, padX: 45, padY: 22, mirror: true });
arrow(botA, [2.128, -.267, 2.035, .119]);
arrow(botA, [1.978, -.993, 1.939, -1.393]);
txt(54, 765, 'x', 84, { bold: true, italic: true, anchor: 'middle', rotate: -90 }).attr('dy', '.3em');
txt(86, 722, 'n', 62, { bold: true, italic: true, anchor: 'middle', rotate: -90 });
txt(866, 1142, 'k', 84, { bold: true, italic: true, anchor: 'middle' });
txt(500, 750, 'y', 84, { bold: true, italic: true });
txt(535, 795, 'n', 62, { bold: true, italic: true });
txt(355, 905, 'x', 84, { bold: true, italic: true });
txt(395, 950, 'n', 62, { bold: true, italic: true });
caption(820, 1254, 'a');

//---------- (b) ----------
var panB = makePanel(1950, 3230, 57, 933, [-2, 2], [-1, 1]);
grid(panB, axisXb.slice(1, 4), axisYb.slice(1, 4));
var lobeAll = flatRows(lobeRowsTop).concat(flatRows(lobeRowsLow)).concat(lobeEdge);
[1, -1].forEach(function(s) {
  function flip(arr) { return arr.map(function(d) { return [s * d[0], s * d[1]]; }); }
  panB.plot.append('path').attr('d', panB.line.curve(d3.curveLinearClosed)(flip(lobeCore))).attr('fill', pinkC);
  panB.line.curve(d3.curveLinear);
  dots(panB, flip(lobeAll), 4.3, pinkC);
  dots(panB, flip(lobeHoles), 3.6, '#fff');
});
hchSegments.forEach(function(s) {
  panB.plot.append('path').attr('d', panB.line(s)).attr('stroke', '#f2b21e').attr('stroke-width', 9).attr('fill', 'none').attr('stroke-linecap', 'round');
});
dots(panB, pointsP4, 14, '#7b2fbe');
dots(panB, pointsP8, 14, '#e8681a');
dots(panB, pointsCH, 14, '#0fa080');
dots(panB, pointsP2, 13, '#0b4fa5');
frame(panB, { xTicks: axisXb, yTicks: axisYb, padX: 45, padY: 29, mirror: true });
arrow(panB, [-.39, .583, .081, .742]);
arrow(panB, [-.912, .561, -1.424, .119]);
arrow(panB, [-.556, .083, -.556, -.185]);
arrow(panB, [1.367, -.818, -.195, -.572]);
arrow(panB, [.768, -.226, .838, .32]);
arrow(panB, [.956, -.472, 1.286, .037]);
txt(2662, 165, 'k=2.36 QP', 76);
txt(1986, 514, 'k=2.279 CH', 76);
txt(2177, 654, 'k=2.3 HCH', 76);
txt(2183, 740, 'k=2.25 P8', 76);
txt(2748, 331, 'k=2.12 P4', 76);
txt(2918, 451, 'k=1.9 P2', 76);
txt(2000, 905, 'IC=(0.1,0.1),a=1,c=1,h=1', 76);
txt(1792, 510, 'y', 84, { bold: true, italic: true, anchor: 'middle', rotate: -90 }).attr('dy', '.3em');
txt(1825, 470, 'n', 62, { bold: true, italic: true, anchor: 'middle', rotate: -90 });
txt(2556, 1086, 'x', 84, { bold: true, italic: true, anchor: 'middle' });
txt(2600, 1130, 'n', 62, { bold: true, italic: true, anchor: 'middle' });
caption(2562, 1254, 'b');

//---------- (c) ----------
var panC = makePanel(238, 1380, 1358, 2247, [.6, 2.8], [.5, 1.9]);
var colorOf = d3.scaleOrdinal().domain(regimes).range(regimeColors);
panC.plot.append('rect').attr('x', panC.x0).attr('y', panC.y0).attr('width', panC.x1 - panC.x0).attr('height', panC.y1 - panC.y0).attr('fill', colorOf('SP'));
above(panC, edgeP2, colorOf('P2'));
above(panC, edgeMP, colorOf('MP'));
above(panC, edgeCH, colorOf('CH'));
stroke(panC, chOrange, '#e8962a', 8, d3.curveCatmullRom);
stroke(panC, chYellow, '#ffd21e', 3.5, d3.curveCatmullRom);
above(panC, topCH, colorOf('MP'));
above(panC, edgeSpeckle, 'url(#speckleSparse)');
above(panC, edgeSpeckle.filter(function(d) { return d[0] > 2.07; }), 'url(#speckleDense)');
above(panC, edgeTeal, colorOf('SP'));
stroke(panC, edgeBlack.filter(function(d) { return d[0] > 1.85; }).map(function(d) { return [d[0], d[1] - .012]; }), colorOf('SP'), 20, d3.curveCatmullRom)
  .attr('stroke-dasharray', '34 9 16 6 48 12 20 7');
above(panC, edgeBlack, colorOf('DI'));
between(panC, arcUpper, arcLower, colorOf('SP'));
cells(panC, tealInBlack, 5, colorOf('SP'));
cells(panC, blackInSpeckle, 6, colorOf('DI'));
cells(panC, yellowDots, 3.5, colorOf('MP'));
cells(panC, darkDotsCH, 3.5, colorOf('P8'));
frame(panC, { xTicks: mapXTicks, yTicks: mapYTicks, xLabels: labelsXc, yLabels: labelsYc, padX: 44, padY: 24, box: false, tick: 0, size: 72 });
txt(821, 2448, 'k', 84, { bold: true, italic: true, anchor: 'middle' });
txt(76, 1789, 'h', 84, { bold: true, italic: true, anchor: 'middle', rotate: -90 }).attr('dy', '.3em');

var bandY = d3.scaleBand().domain(regimes).range([1360, 2246]);
var barC = svg.append('g');
barC.selectAll('rect').data(regimes).enter().append('rect')
  .attr('x', 1414).attr('width', 63).attr('y', function(d) { return bandY(d); }).attr('height', bandY.bandwidth())
  .attr('fill', function(d) { return colorOf(d); });
barC.append('rect').attr('x', 1414).attr('y', 1360).attr('width', 63).attr('height', 886).attr('fill', 'none').attr('stroke', '#333').attr('stroke-width', 2);
barC.append('g').attr('transform', 'translate(1477,0)')
  .call(d3.axisRight(bandY).tickSize(-7).tickPadding(25))
  .call(function(s) {
    s.select('.domain').remove();
    s.selectAll('line').attr('stroke', '#333').attr('stroke-width', 2);
    s.selectAll('text').style('font-family', '"Liberation Serif", serif').style('font-size', '68px').attr('fill', '#222');
  });
caption(820, 2588, 'c');

//---------- (d) ----------
var panD = makePanel(1956, 3136, 1360, 2297, [.6, 2.8], [.5, 1.9]);
var lyapColor = d3.scaleLinear().domain([-.498, -.012, -.011, .1, .2, .315])
  .range(['#00007f', '#0000ff', '#ffff00', '#ff8000', '#ff0000', '#800000']);
var darkBlue = d3.scaleLinear().domain([-.49, -.2]).range(['#00007f', '#0000ff']);
panD.plot.append('rect').attr('x', panD.x0).attr('y', panD.y0).attr('width', panD.x1 - panD.x0).attr('height', panD.y1 - panD.y0).attr('fill', '#0000ff');
lyapContours.forEach(function(c, i) {
  above(panD, c.map(function(h, j) { return [lyapK[j], h]; }), darkBlue(lyapLevels[i]), d3.curveBasis);
});
function bandAt(t) {
  return bandK.map(function(k, i) { return [k, bandLower[i] + t * (bandUpper[i] - bandLower[i])]; });
}
bandLayers.forEach(function(l) {
  var path = d3.area().x(function(d) { return panD.x(d[0]); }).y0(function(d) { return panD.y(d[1]); })
    .y1(function(d, i) { return panD.y(bandAt(l[1])[i][1]); }).curve(d3.curveCatmullRom);
  panD.plot.append('path').attr('d', path(bandAt(l[0]))).attr('fill', lyapColor(l[2]));
});
stroke(panD, bandAt(.34), '#ffb020', 3.5, d3.curveCatmullRom);
stroke(panD, bandAt(.34), '#1020e0', 7, d3.curveCatmullRom).attr('stroke-dasharray', '14 46 8 38');
stroke(panD, bandAt(.62), '#ff9030', 5, d3.curveCatmullRom).attr('stroke-dasharray', '1 31 1 47').attr('stroke-linecap', 'round');
stroke(panD, bandAt(.17), '#ffc050', 5, d3.curveCatmullRom).attr('stroke-dasharray', '1 43 1 29').attr('stroke-linecap', 'round');
above(panD, whiteEdge, '#fff', d3.curveLinear);
dots(panD, whiteSpecksD, 4.5, '#fff');
dots(panD, blueSpecks, 3.5, '#0000ff');
between(panD, arcUpperD, arcLowerD, '#0000ff');
frame(panD, { xTicks: mapXTicks, yTicks: mapYTicks, xLabels: labelsXd, yLabels: labelsYd, padX: 38, padY: 26, size: 72, mirror: true });
txt(2540, 2478, 'k', 80, { bold: true, italic: true, anchor: 'middle' });
txt(1792, 1836, 'h', 84, { bold: true, italic: true, anchor: 'middle', rotate: -90 }).attr('dy', '.3em');

var barScale = d3.scaleLinear().domain([-.498, .315]).range([2297, 1362]);
var barD = svg.append('g');
barD.selectAll('rect').data(d3.range(-.498, .315, .003)).enter().append('rect')
  .attr('x', 3171).attr('width', 76).attr('y', function(d) { return barScale(d + .003) - .5; }).attr('height', 4)
  .attr('fill', function(d) { return lyapColor(d); });
barD.append('g').attr('transform', 'translate(3247,0)')
  .call(d3.axisRight(barScale).tickValues(barTicks).tickSize(-7).tickPadding(24).tickFormat(function(d) { return d; }))
  .call(function(s) {
    s.select('.domain').remove();
    s.selectAll('line').attr('stroke', '#333').attr('stroke-width', 2);
    s.selectAll('text').style('font-family', '"Liberation Serif", serif').style('font-size', '68px').attr('fill', '#222');
  });
caption(2562, 2588, 'd');
</script>
</body>
</html>
